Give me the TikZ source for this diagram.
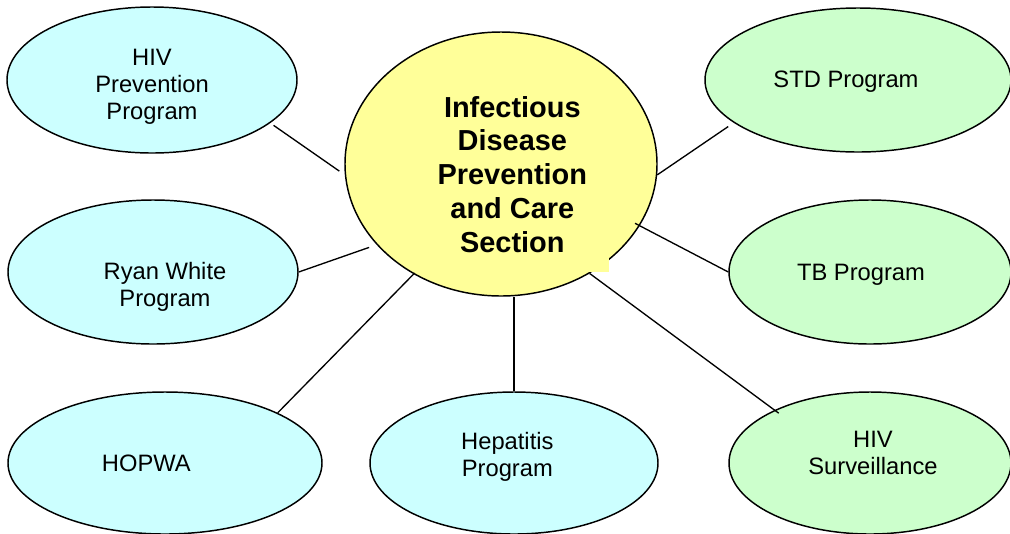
\documentclass[tikz,border=0pt]{standalone}
\usepackage{fontspec}
\setmainfont{Liberation Sans}
\usetikzlibrary{shapes.geometric}
\definecolor{progblue}{HTML}{CCFFFF}
\definecolor{proggreen}{HTML}{CCFFCC}
\definecolor{titleyellow}{HTML}{FFFF99}
\tikzset{
    prog/.style={draw, ellipse, line width=1.1pt, inner sep=0pt},
    every label/.style={align=center, font=\fontsize{17.8pt}{20.25pt}\selectfont},
}

\begin{document}
\begin{tikzpicture}[x=0.75pt, y=-0.75pt, line width=1pt]
    \path [use as bounding box, clip] (0,0) rectangle (1010,533);
    \node (Centre) [prog, fill=titleyellow, minimum width=234pt, minimum height=198pt] at (501,164) {};
    \node (HIVPrev) [prog, fill=progblue, minimum width=217.5pt, minimum height=109.5pt, label={[yshift=-4.9pt]center:{HIV\\Prevention\\Program}}] at (152,80) {};
    \node (Ryan) [prog, fill=progblue, minimum width=217.5pt, minimum height=108pt, label={[xshift=9pt, yshift=-11.5pt]center:{Ryan White\\Program}}] at (153,272) {};
    \node (HOPWA) [prog, fill=progblue, minimum width=235.5pt, minimum height=106.5pt, label={[xshift=-14pt]center:HOPWA}] at (165,463) {};
    \node (Hep) [prog, fill=progblue, minimum width=216pt, minimum height=106.5pt, label={[xshift=-5pt, yshift=4.5pt]center:{Hepatitis\\Program}}] at (514,463) {};
    \node (STD) [prog, fill=proggreen, minimum width=229.5pt, minimum height=108pt, label={[xshift=-9pt, yshift=-1.5pt]center:STD Program}] at (858,80) {};
    \node (TB) [prog, fill=proggreen, minimum width=211.5pt, minimum height=108pt, label={[xshift=-6.75pt, yshift=-2pt]center:TB Program}] at (870,272) {};
    \node (Surv) [prog, fill=proggreen, minimum width=211.5pt, minimum height=106.5pt, label={[xshift=2.25pt, yshift=7.7pt]center:{HIV\\Surveillance}}] at (870,463) {};
    % text box of the section, sticks out at the bottom right
    \node (Title) [fill=titleyellow, minimum width=145.5pt, minimum height=147pt, anchor=south east, align=center, font=\bfseries\fontsize{21.7pt}{25.3pt}\selectfont] at (610,273) {Infectious\\Disease\\Prevention\\and Care\\Section};
    \draw [shorten <=3pt, shorten >=5pt] (HIVPrev.-20.5) -- (Centre.184.8);
    \draw [shorten >=6pt] (Ryan.east) -- (Centre.213.5);
    \draw (HOPWA.24.6) -- (Title.south west);
    \draw (Hep.north) -- (Hep.north |- Centre.south);
    \draw [shorten <=-4pt] (Surv.151.9) -- (Centre.-51.8);
    \draw [shorten >=-4pt] (TB.west) -- (Centre.-24.5);
    \draw [shorten <=5pt] (STD.199.5) -- (Centre.-4.4);
\end{tikzpicture}
\end{document}
